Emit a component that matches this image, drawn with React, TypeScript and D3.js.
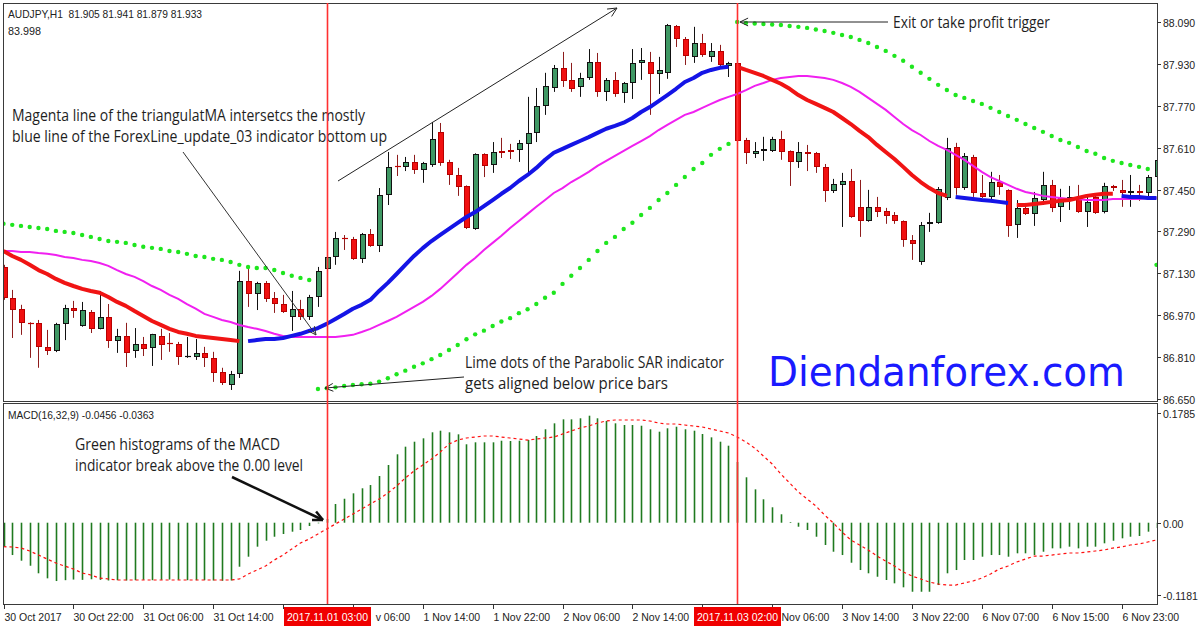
import * as d3 from "d3";
import { useEffect, useRef } from "react";

// AUDJPY H1 candles, bar 0 = 30 Oct 14:00
const openP = [
  87.154, 87.036, 86.994, 86.94, 86.94, 86.848, 86.832, 86.936, 86.997, 86.928,
  86.982, 86.917, 86.963, 86.871, 86.89, 86.832, 86.859, 86.844, 86.89, 86.863,
  86.859, 86.813, 86.809, 86.825, 86.806, 86.752, 86.702, 86.744, 87.1, 87.051,
  87.093, 87.036, 87.012, 86.963, 86.994, 86.963, 87.039, 87.146, 87.192, 87.265,
  87.261, 87.185, 87.28, 87.234, 87.43, 87.541, 87.537, 87.556, 87.525, 87.544,
  87.671, 87.556, 87.506, 87.464, 87.299, 87.587, 87.544, 87.598, 87.602, 87.602,
  87.625, 87.667, 87.77, 87.839, 87.916, 87.87, 87.843, 87.877, 87.939, 87.824,
  87.87, 87.82, 87.858, 87.935, 87.939, 87.893, 87.897, 88.076, 88.027, 87.958,
  88.011, 87.958, 87.981, 87.923, 87.935, 87.64, 87.587, 87.598, 87.598, 87.644,
  87.598, 87.556, 87.594, 87.59, 87.537, 87.445, 87.468, 87.483, 87.384, 87.33,
  87.384, 87.368, 87.353, 87.33, 87.257, 87.173, 87.319, 87.322, 87.418, 87.613,
  87.456, 87.575, 87.437, 87.422, 87.479, 87.449, 87.315, 87.38, 87.357, 87.41,
  87.468, 87.384, 87.414, 87.422, 87.364, 87.422, 87.364, 87.464, 87.449, 87.437,
  87.445, 87.437, 87.498,
];
const highP = [
  87.162, 87.066, 87.009, 86.942, 86.951, 86.913, 86.94, 87.009, 87.024, 87.02,
  86.989, 87.062, 87.012, 86.917, 86.94, 86.92, 86.886, 86.898, 86.917, 86.901,
  86.867, 86.886, 86.878, 86.848, 86.829, 86.768, 86.756, 87.139, 87.146, 87.097,
  87.1, 87.058, 87.047, 87.062, 87.028, 87.047, 87.154, 87.2, 87.288, 87.276,
  87.269, 87.284, 87.299, 87.456, 87.594, 87.583, 87.575, 87.583, 87.556, 87.709,
  87.705, 87.564, 87.533, 87.466, 87.589, 87.589, 87.632, 87.648, 87.625, 87.64,
  87.805, 87.839, 87.897, 87.927, 87.977, 87.935, 87.897, 87.988, 87.973, 87.877,
  87.9, 87.862, 87.988, 87.992, 87.977, 87.958, 88.084, 88.08, 88.034, 88.073,
  88.046, 88.011, 88.004, 87.939, 87.946, 87.648, 87.632, 87.652, 87.652, 87.675,
  87.6, 87.632, 87.621, 87.594, 87.548, 87.491, 87.514, 87.529, 87.487, 87.449,
  87.422, 87.38, 87.364, 87.332, 87.276, 87.326, 87.361, 87.46, 87.648, 87.629,
  87.59, 87.583, 87.506, 87.518, 87.506, 87.451, 87.41, 87.399, 87.441, 87.518,
  87.487, 87.453, 87.464, 87.468, 87.422, 87.426, 87.476, 87.468, 87.487, 87.506,
  87.468, 87.506, 87.583,
];
const lowP = [
  87.028, 86.882, 86.894, 86.806, 86.768, 86.817, 86.828, 86.874, 86.959, 86.925,
  86.901, 86.915, 86.844, 86.825, 86.771, 86.806, 86.813, 86.775, 86.798, 86.829,
  86.779, 86.806, 86.798, 86.771, 86.714, 86.702, 86.683, 86.729, 87.001, 86.989,
  87.02, 86.978, 86.978, 86.909, 86.951, 86.951, 87.001, 87.142, 87.162, 87.219,
  87.181, 87.169, 87.231, 87.211, 87.391, 87.502, 87.521, 87.51, 87.476, 87.537,
  87.541, 87.468, 87.426, 87.299, 87.296, 87.498, 87.514, 87.571, 87.567, 87.556,
  87.514, 87.632, 87.736, 87.824, 87.843, 87.824, 87.805, 87.87, 87.805, 87.789,
  87.805, 87.782, 87.797, 87.87, 87.736, 87.816, 87.874, 87.996, 87.927, 87.935,
  87.958, 87.939, 87.92, 87.881, 87.629, 87.548, 87.571, 87.56, 87.594, 87.564,
  87.464, 87.533, 87.521, 87.514, 87.403, 87.437, 87.307, 87.342, 87.269, 87.327,
  87.345, 87.319, 87.319, 87.231, 87.181, 87.162, 87.288, 87.319, 87.41, 87.43,
  87.449, 87.422, 87.418, 87.41, 87.43, 87.269, 87.265, 87.353, 87.311, 87.391,
  87.364, 87.326, 87.372, 87.361, 87.307, 87.357, 87.359, 87.445, 87.384, 87.384,
  87.407, 87.422, 87.487,
];
const closeP = [
  87.036, 86.989, 86.94, 86.938, 86.848, 86.832, 86.936, 86.997, 86.986, 86.989,
  86.917, 86.963, 86.871, 86.89, 86.825, 86.859, 86.84, 86.897, 86.855, 86.859,
  86.809, 86.813, 86.825, 86.806, 86.748, 86.71, 86.744, 87.1, 87.051, 87.093,
  87.032, 87.012, 86.982, 86.994, 86.963, 87.039, 87.139, 87.192, 87.265, 87.261,
  87.185, 87.28, 87.234, 87.43, 87.537, 87.54, 87.556, 87.525, 87.552, 87.644,
  87.552, 87.506, 87.46, 87.303, 87.587, 87.541, 87.594, 87.59, 87.594, 87.629,
  87.667, 87.77, 87.847, 87.916, 87.866, 87.835, 87.877, 87.939, 87.824, 87.87,
  87.816, 87.858, 87.935, 87.946, 87.893, 87.908, 88.08, 88.027, 87.962, 88.011,
  87.965, 87.981, 87.927, 87.935, 87.636, 87.59, 87.598, 87.606, 87.644, 87.594,
  87.556, 87.594, 87.587, 87.537, 87.445, 87.472, 87.483, 87.345, 87.33, 87.384,
  87.364, 87.349, 87.33, 87.257, 87.242, 87.315, 87.326, 87.453, 87.609, 87.456,
  87.579, 87.437, 87.422, 87.479, 87.46, 87.311, 87.38, 87.357, 87.418, 87.468,
  87.38, 87.418, 87.422, 87.364, 87.403, 87.361, 87.464, 87.456, 87.437, 87.445,
  87.437, 87.498, 87.564,
];

// ForexLine_update_03 (one line, coloured by trend runs)
const forexLine = [
  87.215, 87.196, 87.181, 87.162, 87.142, 87.127, 87.108, 87.093, 87.081, 87.07,
  87.062, 87.055, 87.039, 87.02, 87.005, 86.985, 86.966, 86.947, 86.932, 86.917,
  86.905, 86.898, 86.89, 86.886, 86.882, 86.878, 86.874, 86.87, 86.87, 86.874,
  86.878, 86.878, 86.882, 86.89, 86.898, 86.909, 86.92, 86.936, 86.955, 86.974,
  86.994, 87.009, 87.028, 87.062, 87.093, 87.127, 87.162, 87.196, 87.226, 87.253,
  87.277, 87.3, 87.323, 87.345, 87.364, 87.387, 87.41, 87.434, 87.456, 87.483,
  87.506, 87.533, 87.564, 87.591, 87.606, 87.621, 87.636, 87.651, 87.667, 87.683,
  87.694, 87.706, 87.724, 87.747, 87.766, 87.789, 87.812, 87.836, 87.862, 87.877,
  87.897, 87.908, 87.916, 87.92, 87.92, 87.908, 87.897, 87.885, 87.87, 87.855,
  87.836, 87.812, 87.793, 87.778, 87.763, 87.747, 87.724, 87.701, 87.675, 87.651,
  87.621, 87.594, 87.567, 87.537, 87.506, 87.479, 87.456, 87.437, 87.426, 87.422,
  87.418, 87.414, 87.41, 87.407, 87.403, 87.399, 87.391, 87.391, 87.395, 87.399,
  87.403, 87.407, 87.41, 87.418, 87.426, 87.43, 87.434, 87.434, 87.426, 87.422,
  87.422, 87.418, 87.418,
];
const forexRuns: [number, number, string][] = [
  [0, 27, "down"],
  [28, 83, "up"],
  [84, 108, "down"],
  [109, 115, "up"],
  [116, 127, "down"],
  [128, 132, "up"],
];

// triangular MA
const triMA = [
  87.215, 87.215, 87.211, 87.211, 87.207, 87.204, 87.2, 87.192, 87.188, 87.181,
  87.177, 87.169, 87.158, 87.142, 87.127, 87.116, 87.1, 87.081, 87.066, 87.047,
  87.032, 87.012, 86.994, 86.974, 86.963, 86.951, 86.943, 86.932, 86.924, 86.917,
  86.909, 86.898, 86.89, 86.886, 86.886, 86.886, 86.886, 86.886, 86.886, 86.89,
  86.894, 86.905, 86.917, 86.932, 86.947, 86.963, 86.982, 87.001, 87.02, 87.043,
  87.07, 87.1, 87.131, 87.162, 87.188, 87.219, 87.246, 87.273, 87.303, 87.33,
  87.357, 87.384, 87.41, 87.437, 87.456, 87.479, 87.498, 87.518, 87.541, 87.56,
  87.579, 87.598, 87.617, 87.636, 87.655, 87.678, 87.698, 87.717, 87.736, 87.747,
  87.763, 87.778, 87.793, 87.805, 87.816, 87.831, 87.847, 87.858, 87.87, 87.877,
  87.881, 87.885, 87.885, 87.881, 87.877, 87.87, 87.858, 87.843, 87.824, 87.801,
  87.778, 87.755, 87.728, 87.701, 87.678, 87.659, 87.636, 87.617, 87.602, 87.583,
  87.564, 87.541, 87.518, 87.498, 87.483, 87.468, 87.453, 87.441, 87.434, 87.426,
  87.422, 87.418, 87.414, 87.414, 87.41, 87.41, 87.41, 87.414, 87.414, 87.414,
  87.414, 87.418, 87.418,
];

// Parabolic SAR
const sar = [
  87.319, 87.315, 87.311, 87.307, 87.303, 87.299, 87.292, 87.288, 87.284, 87.276,
  87.269, 87.261, 87.253, 87.25, 87.246, 87.238, 87.231, 87.227, 87.223, 87.215,
  87.211, 87.204, 87.196, 87.192, 87.185, 87.181, 87.173, 87.162, 87.154, 87.15,
  87.15, 87.142, 87.131, 87.12, 87.112, 87.104, 86.687, 86.69, 86.693, 86.698,
  86.702, 86.705, 86.707, 86.715, 86.728, 86.743, 86.757, 86.772, 86.785, 86.801,
  86.817, 86.836, 86.855, 86.877, 86.896, 86.91, 86.928, 86.945, 86.958, 86.977,
  86.992, 87.012, 87.036, 87.055, 87.089, 87.12, 87.15, 87.181, 87.215, 87.246,
  87.269, 87.299, 87.323, 87.353, 87.38, 87.41, 87.437, 87.468, 87.498, 87.529,
  87.552, 87.583, 87.606, 87.625, 88.092, 88.088, 88.086, 88.084, 88.082, 88.08,
  88.076, 88.073, 88.069, 88.063, 88.057, 88.05, 88.042, 88.034, 88.023, 88.011,
  87.996, 87.981, 87.962, 87.943, 87.92, 87.897, 87.874, 87.851, 87.831, 87.812,
  87.801, 87.789, 87.778, 87.763, 87.747, 87.732, 87.717, 87.701, 87.686, 87.671,
  87.655, 87.64, 87.629, 87.613, 87.598, 87.587, 87.571, 87.56, 87.552, 87.544,
  87.537, 87.529, 87.162,
];

// MACD(16,32,9)
const macdMain = [
  -0.039, -0.0526, -0.0618, -0.07, -0.0823, -0.0905, -0.0949, -0.0935, -0.0925, -0.093,
  -0.092, -0.093, -0.094, -0.0935, -0.094, -0.0935, -0.093, -0.0935, -0.093, -0.0925,
  -0.093, -0.0935, -0.0935, -0.0935, -0.094, -0.0945, -0.094, -0.0716, -0.0553, -0.039,
  -0.0293, -0.0228, -0.0184, -0.0146, -0.0119, -0.0054, -0.001, 0.006, 0.0304, 0.039,
  0.0478, 0.056, 0.0613, 0.076, 0.0939, 0.1113, 0.1237, 0.1318, 0.1373, 0.1471,
  0.1497, 0.1471, 0.1438, 0.1276, 0.1308, 0.1308, 0.1308, 0.1334, 0.1329, 0.1334,
  0.1346, 0.1411, 0.152, 0.1617, 0.1682, 0.1682, 0.1699, 0.1741, 0.1699, 0.1655,
  0.1617, 0.159, 0.159, 0.1578, 0.152, 0.1481, 0.1536, 0.1562, 0.152, 0.1497,
  0.1443, 0.1389, 0.1318, 0.1253, 0.0988, 0.0739, 0.0543, 0.0381, 0.0251, 0.0137,
  0.0011, -0.0065, -0.0119, -0.0228, -0.0363, -0.0472, -0.0526, -0.0651, -0.077, -0.0823,
  -0.0879, -0.0932, -0.0986, -0.1051, -0.1123, -0.1123, -0.1123, -0.1014, -0.0823, -0.077,
  -0.0607, -0.0607, -0.0553, -0.0526, -0.0526, -0.0553, -0.0498, -0.0498, -0.0526, -0.0472,
  -0.0417, -0.0417, -0.039, -0.0417, -0.039, -0.039, -0.0335, -0.0293, -0.0254, -0.0228,
  -0.0216, -0.0146, -0.0086,
];
const macdSignal = [
  -0.039, -0.0395, -0.0412, -0.046, -0.0526, -0.0591, -0.0656, -0.0705, -0.0753, -0.0818,
  -0.0851, -0.09, -0.0916, -0.0932, -0.0932, -0.0932, -0.0932, -0.0932, -0.0932, -0.0932,
  -0.0932, -0.0932, -0.0932, -0.0932, -0.0932, -0.0932, -0.0932, -0.0916, -0.0835, -0.077,
  -0.0705, -0.0607, -0.0526, -0.0428, -0.033, -0.0265, -0.0184, -0.0103, -0.0021, 0.006,
  0.0142, 0.0223, 0.0304, 0.0386, 0.0483, 0.0597, 0.0727, 0.0841, 0.0939, 0.1036,
  0.115, 0.128, 0.1345, 0.1378, 0.1394, 0.1411, 0.1411, 0.1394, 0.1378, 0.1362,
  0.1345, 0.1362, 0.1378, 0.1394, 0.1443, 0.1492, 0.1541, 0.1573, 0.1622, 0.1655,
  0.1671, 0.1671, 0.1671, 0.1671, 0.1655, 0.1622, 0.1606, 0.1606, 0.159, 0.1573,
  0.1557, 0.1525, 0.1492, 0.1459, 0.1394, 0.1313, 0.1215, 0.1085, 0.0955, 0.0792,
  0.0646, 0.05, 0.0386, 0.0272, 0.0125, -0.0005, -0.0151, -0.0281, -0.0363, -0.0444,
  -0.0542, -0.0623, -0.0705, -0.0802, -0.0867, -0.0916, -0.0965, -0.0997, -0.1014, -0.1014,
  -0.0981, -0.0949, -0.09, -0.0835, -0.0753, -0.0705, -0.0639, -0.0591, -0.0542, -0.0542,
  -0.0526, -0.0509, -0.0493, -0.0493, -0.0477, -0.046, -0.0444, -0.0412, -0.0395, -0.0363,
  -0.0347, -0.0314, -0.0281,
];

const priceTicks = [88.09, 87.93, 87.77, 87.61, 87.45, 87.29, 87.13, 86.97, 86.81, 86.65];
const macdTicks = [0.1785, 0, -0.1181];
const macdTickLabels = ["0.1785", "0.00", "-0.1181"];

const timeTickBars = [0, 8, 16, 24, 32, 40, 48, 56, 64, 72, 80, 88, 96, 104, 112, 120, 128];
const timeTickLabels = [
  "30 Oct 2017", "30 Oct 22:00", "31 Oct 06:00", "31 Oct 14:00", "31 Oct 22:00",
  "1 Nov 06:00", "1 Nov 14:00", "1 Nov 22:00", "2 Nov 06:00", "2 Nov 14:00",
  "2 Nov 22:00", "3 Nov 06:00", "3 Nov 14:00", "3 Nov 22:00", "6 Nov 07:00",
  "6 Nov 15:00", "6 Nov 23:00",
];
const markerBars = [37, 84];
const markerLabels = ["2017.11.01 03:00", "2017.11.03 02:00"];

const AXIS_FONT = "'Liberation Sans', Arial, sans-serif";
const NOTE_FONT = "'Open Sans', 'Noto Sans', sans-serif";

const App = () => {
  const svgRef = useRef<SVGSVGElement>(null);

  useEffect(() => {
    const svg = d3.select(svgRef.current);
    svg.selectAll("*").remove();

    const n = closeP.length;
    const left = 3, right = 1157, top = 3, mainBottom = 401, macdTop = 403, macdBottom = 604;
    const boxHalf = 43.5;

    const x = d3.scaleLinear().domain([0, n - 1]).range([3.5, 1156.5]);
    const yP = d3.scaleLinear().domain([86.65, 88.09]).range([398.6, 22.4]);
    const yM = d3.scaleLinear().domain([-0.1181, 0.1785]).range([595.3, 413]);
    const cx = (i: number) => Math.round(x(i));

    svg.append("rect").attr("width", 1200).attr("height", 628).attr("fill", "#fff");

    const defs = svg.append("defs");
    defs.append("clipPath").attr("id", "clipMain").append("rect")
      .attr("x", left).attr("y", top).attr("width", right - left).attr("height", mainBottom - top);
    defs.append("clipPath").attr("id", "clipMacd").append("rect")
      .attr("x", left).attr("y", macdTop).attr("width", right - left).attr("height", macdBottom - macdTop);

    const main = svg.append("g").attr("clip-path", "url(#clipMain)");
    const macd = svg.append("g").attr("clip-path", "url(#clipMacd)");

    // candles
    d3.range(n).forEach((i) => {
      const o = openP[i], c = closeP[i];
      const bull = c >= o;
      const xc = cx(i);
      main.append("line")
        .attr("x1", xc + 0.5).attr("x2", xc + 0.5)
        .attr("y1", yP(highP[i])).attr("y2", yP(lowP[i]))
        .attr("stroke", bull ? "#111" : "#8e1c1c").attr("stroke-width", 1);
      const t = Math.round(yP(Math.max(o, c)));
      const b = Math.round(yP(Math.min(o, c)));
      if (b - t < 2) {
        main.append("line")
          .attr("x1", xc - 2).attr("x2", xc + 4)
          .attr("y1", t + 0.5).attr("y2", t + 0.5)
          .attr("stroke", bull ? "#111" : "#c00000").attr("stroke-width", 1.2);
      } else {
        main.append("rect")
          .attr("x", xc - 1.5).attr("y", t + 0.5)
          .attr("width", 5).attr("height", b - t - 1)
          .attr("fill", bull ? "#3f9864" : "#f01010")
          .attr("stroke", bull ? "#111" : "#b80000").attr("stroke-width", 1)
          .attr("shape-rendering", "crispEdges");
      }
    });

    // triangular MA
    main.append("path").datum(triMA)
      .attr("fill", "none").attr("stroke", "#f020f0").attr("stroke-width", 2)
      .attr("d", d3.line<number>().x((_, i) => x(i)).y((d) => yP(d)));

    // ForexLine runs
    forexRuns.forEach(([a, b, trend]) => {
      const idx = d3.range(a, b + 1);
      main.append("path").datum(idx)
        .attr("fill", "none")
        .attr("stroke", trend === "up" ? "#1414e6" : "#f01414")
        .attr("stroke-width", 4).attr("stroke-linejoin", "round")
        .attr("d", d3.line<number>().x((i) => x(i)).y((i) => yP(forexLine[i])));
    });

    // parabolic SAR
    main.selectAll("circle.sar").data(sar).join("circle")
      .attr("class", "sar")
      .attr("cx", (_, i) => x(i)).attr("cy", (d) => yP(d))
      .attr("r", 2.2).attr("fill", "#1ee61e");

    // MACD histogram + signal
    macd.selectAll("line.hist").data(macdMain).join("line")
      .attr("class", "hist")
      .attr("x1", (_, i) => cx(i) + 0.5).attr("x2", (_, i) => cx(i) + 0.5)
      .attr("y1", yM(0)).attr("y2", (d) => yM(d))
      .attr("stroke", "#1f7a1f").attr("stroke-width", 1.6);
    macd.append("path").datum(macdSignal)
      .attr("fill", "none").attr("stroke", "#ff1010").attr("stroke-width", 1.2)
      .attr("stroke-dasharray", "3,3")
      .attr("d", d3.line<number>().x((_, i) => x(i)).y((d) => yM(d)));

    // frames
    const frame = svg.append("g").attr("stroke", "#3a3a3a").attr("fill", "none")
      .attr("shape-rendering", "crispEdges");
    frame.append("rect").attr("x", left + 0.5).attr("y", top + 0.5)
      .attr("width", right - left).attr("height", mainBottom - top);
    frame.append("rect").attr("x", left + 0.5).attr("y", macdTop + 0.5)
      .attr("width", right - left).attr("height", macdBottom - macdTop);

    // right price axis
    priceTicks.forEach((p) => {
      const yy = Math.round(yP(p)) + 0.5;
      svg.append("line").attr("x1", right).attr("x2", right + 4).attr("y1", yy).attr("y2", yy)
        .attr("stroke", "#333");
      svg.append("text").attr("x", right + 6).attr("y", yy + 4)
        .attr("font-family", AXIS_FONT).attr("font-size", 10.5).attr("fill", "#222")
        .text(p.toFixed(3));
    });
    macdTicks.forEach((v, k) => {
      const yy = Math.round(yM(v)) + 0.5;
      svg.append("line").attr("x1", right).attr("x2", right + 4).attr("y1", yy).attr("y2", yy)
        .attr("stroke", "#333");
      svg.append("text").attr("x", right + 6).attr("y", yy + 4)
        .attr("font-family", AXIS_FONT).attr("font-size", 10.5).attr("fill", "#222")
        .text(macdTickLabels[k]);
    });

    // time axis; labels under a marker box keep only their visible tail
    const boxes = markerBars.map((bi) => [cx(bi) + 0.5 - boxHalf, cx(bi) + 0.5 + boxHalf]);
    timeTickBars.forEach((bi, k) => {
      const xx = cx(bi) + 0.5;
      svg.append("line").attr("x1", xx).attr("x2", xx).attr("y1", macdBottom).attr("y2", macdBottom + 5)
        .attr("stroke", "#333");
      const label = timeTickLabels[k];
      const txt = svg.append("text").attr("x", xx).attr("y", 621)
        .attr("font-family", AXIS_FONT).attr("font-size", 10.5).attr("fill", "#222")
        .text(label);
      const node = txt.node() as SVGTextElement;
      const w = node.getComputedTextLength();
      const hit = boxes.find(([b0, b1]) => xx < b1 && xx + w > b0);
      if (!hit) return;
      const edge = hit[1] - 1;
      let cut = -1;
      for (let c = 0; c < label.length; c++) {
        if (node.getStartPositionOfChar(c).x >= edge) { cut = c; break; }
      }
      if (cut < 0) { txt.remove(); return; }
      const sx = node.getStartPositionOfChar(cut).x;
      txt.attr("x", Math.max(sx, hit[1] + 0.5)).text(label.slice(cut));
    });

    // vertical marker labels
    markerBars.forEach((bi, k) => {
      const xx = cx(bi) + 0.5;
      svg.append("rect").attr("x", xx - boxHalf).attr("y", 607).attr("width", boxHalf * 2).attr("height", 19)
        .attr("fill", "#f00000");
      svg.append("text").attr("x", xx).attr("y", 621).attr("text-anchor", "middle")
        .attr("font-family", AXIS_FONT).attr("font-size", 10.5).attr("fill", "#fff")
        .text(markerLabels[k]);
    });

    // headers
    const plain = (t: string, px: number, py: number, len: number) =>
      svg.append("text").attr("x", px).attr("y", py)
        .attr("font-family", AXIS_FONT).attr("font-size", 10.5).attr("fill", "#222")
        .attr("textLength", len).attr("lengthAdjust", "spacingAndGlyphs")
        .style("white-space", "pre").text(t);
    plain("AUDJPY,H1  81.905 81.941 81.879 81.933", 8, 18, 194);
    plain("83.998", 8, 35, 33);
    plain("MACD(16,32,9) -0.0456 -0.0363", 8, 419, 146);

    // annotations
    const note = (t: string, px: number, py: number, len: number, size = 15.5) =>
      svg.append("text").attr("x", px).attr("y", py)
        .attr("font-family", NOTE_FONT).attr("font-size", size).attr("fill", "#1e1e1e")
        .attr("textLength", len).attr("lengthAdjust", "spacingAndGlyphs").text(t);

    const arrow = (x1: number, y1: number, x2: number, y2: number, w: number, head: number, color = "#222") => {
      svg.append("line").attr("x1", x1).attr("y1", y1).attr("x2", x2).attr("y2", y2)
        .attr("stroke", color).attr("stroke-width", w);
      const ang = Math.atan2(y2 - y1, x2 - x1);
      [-0.45, 0.45].forEach((d) => {
        svg.append("line").attr("x1", x2).attr("y1", y2)
          .attr("x2", x2 - head * Math.cos(ang + d)).attr("y2", y2 - head * Math.sin(ang + d))
          .attr("stroke", color).attr("stroke-width", w);
      });
    };

    note("Magenta line of the triangulatMA intersetcs the mostly", 12, 121, 353);
    note("blue line of the ForexLine_update_03 indicator bottom up", 12, 142, 375);
    arrow(183, 152, 316, 335, 1, 9, "#333");
    arrow(338, 181, 617, 8, 1, 10, "#222");

    note("Exit or take profit trigger", 893, 28, 157);
    arrow(888, 22, 740, 22, 1, 9, "#222");

    note("Lime dots of the Parabolic SAR indicator", 465, 368, 259);
    note("gets aligned below price bars", 465, 389, 203);
    arrow(464, 377, 325, 388, 1, 9, "#222");

    note("Green histograms of the MACD", 75, 450, 205, 16);
    note("indicator break above the 0.00 level", 75, 471, 228, 16);
    arrow(232, 477, 323, 520, 2.5, 11, "#111");

    svg.append("text").attr("x", 768).attr("y", 386)
      .attr("font-family", "'DejaVu Sans', sans-serif").attr("font-size", 41)
      .attr("fill", "#1a1aff").attr("textLength", 357).attr("lengthAdjust", "spacingAndGlyphs")
      .text("Diendanforex.com");

    // red vertical lines on top
    markerBars.forEach((bi) => {
      const xx = cx(bi) + 0.5;
      svg.append("line").attr("x1", xx).attr("x2", xx).attr("y1", top).attr("y2", macdBottom)
        .style("stroke", "#ff3030").style("stroke-width", 1.6);
    });
  }, []);

  return (
    <svg
      ref={svgRef}
      width={1200}
      height={628}
      style={{ position: "absolute", left: 0, top: 0, background: "#fff" }}
    />
  );
};

export default App;
